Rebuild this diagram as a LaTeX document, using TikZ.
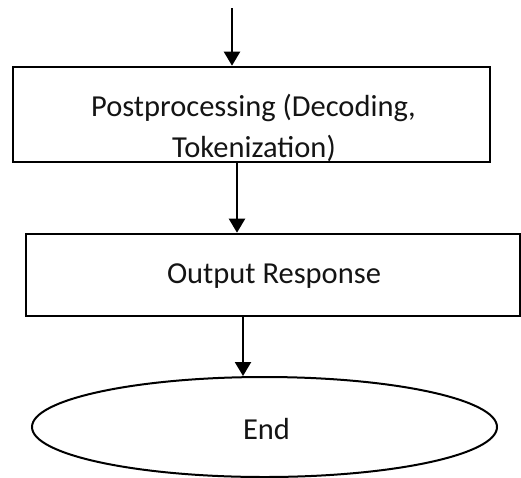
\documentclass[tikz,border=0pt]{standalone}
\usepackage{fontspec}
\setmainfont{Carlito}
\usetikzlibrary{arrows.meta,shapes.geometric}
\begin{document}
\begin{tikzpicture}[x=1pt,y=-1pt,
  boxstyle/.style={draw=black,line width=2.6pt,rectangle,inner sep=0pt},
  endstyle/.style={draw=black,line width=2pt,ellipse,inner sep=0pt},
  txt/.style={font=\fontsize{30.5}{36}\selectfont,text=black!92,inner sep=0pt,anchor=base},
  conn/.style={draw=black,line width=2.2pt,-{Triangle[length=14pt,width=16pt]}}
]
\useasboundingbox (0,0) rectangle (521,477);
\node[boxstyle,minimum width=477pt,minimum height=95pt] (box1) at (251.5,114.5) {};
\node[txt] (t1a) at (253.5,116) {Postprocessing (Decoding,};
\node[txt] (t1b) at (254,157) {Tokenization)};
\node[boxstyle,minimum width=494pt,minimum height=82pt] (box2) at (273,275) {};
\node[txt] (t2) at (274,283) {Output Response};
\node[endstyle,minimum width=465pt,minimum height=100pt] (endn) at (264.5,427) {};
\node[txt] (t3) at (266.5,439) {End};
\coordinate (s0) at (232,8);
\coordinate (c2) at (237,0);
\coordinate (c3) at (243,0);
\draw[conn] (s0) -- (s0 |- box1.north);
\draw[conn] (c2 |- box1.south) -- (c2 |- box2.north);
\draw[conn] (c3 |- box2.south) -- (c3 |- endn.north);
\end{tikzpicture}
\end{document}
